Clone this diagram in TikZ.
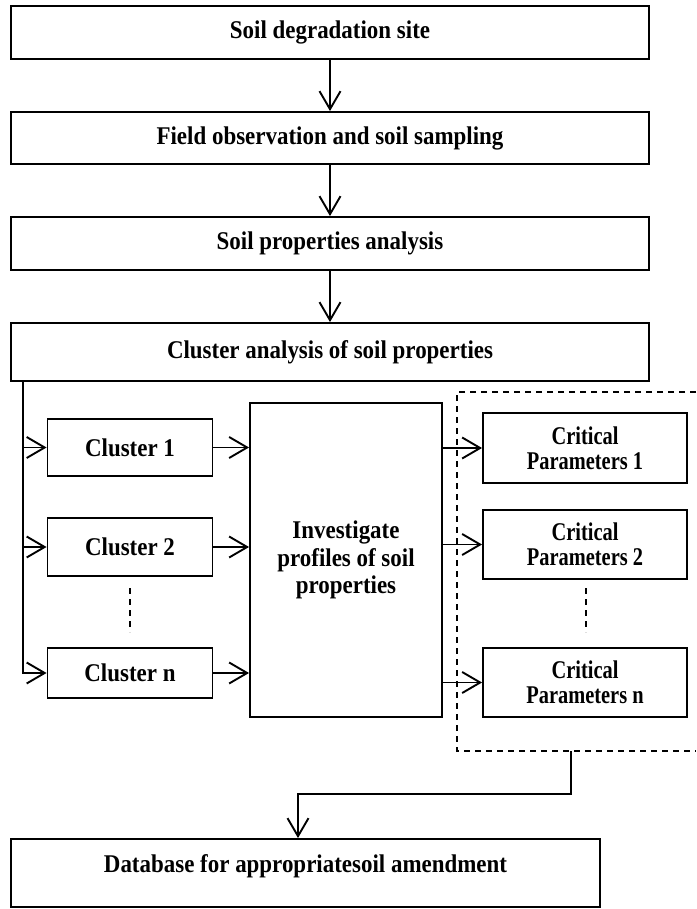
\documentclass[tikz,border=0pt]{standalone}
\usepackage{fontspec}
\setmainfont{Liberation Serif}[FakeStretch=0.9]
\newfontfamily\paramfont{Liberation Serif}[FakeStretch=0.8]
\usetikzlibrary{arrows.meta}

\begin{document}
\begin{tikzpicture}[x=1pt,y=-1pt,
  box/.style={draw,line width=1.9pt,inner sep=0pt,align=center,
    font=\fontsize{25.5}{27.5}\selectfont\bfseries},
  parbox/.style={box,font=\paramfont\fontsize{25.5}{25}\selectfont\bfseries},
  txt/.style={inner sep=0pt,font=\fontsize{25.5}{27.5}\selectfont\bfseries},
  arr/.style={line width=1.9pt,-{Straight Barb[length=18pt,width=21pt,line width=1.9pt]}},
  grp/.style={line width=1.5pt,dash pattern=on 6pt off 5pt},
]
\useasboundingbox (0,0) rectangle (696,909);

% main chain
\node[box,minimum width=638pt,minimum height=53pt] (b1) at (330,32.5) {Soil degradation site};
\node[box,minimum width=638pt,minimum height=52pt] (b2) at (330,138) {Field observation and soil sampling};
\node[box,minimum width=638pt,minimum height=53pt] (b3) at (330,243.5) {Soil properties analysis};
\node[box,minimum width=638pt,minimum height=58pt] (b4) at (330,352) {Cluster analysis of soil properties};

\draw[arr] (b1.south) -- (b2.north);
\draw[arr] (b2.south) -- (b3.north);
\draw[arr] (b3.south) -- (b4.north);

% clusters
\node[box,minimum width=165pt,minimum height=57pt] (c1) at (130,447.5) {Cluster 1};
\node[box,minimum width=165pt,minimum height=58pt] (c2) at (130,547) {Cluster 2};
\node[box,minimum width=165pt,minimum height=50pt] (cn) at (130,673) {Cluster n};
\draw[grp] (130,588) -- (130,632);

\coordinate (bus) at ([xshift=13pt]b4.south west);
\draw[arr] (bus) |- (c1.west);
\draw[arr] (bus) |- (c2.west);
\draw[arr] (bus) |- (cn.west);

% profiles
\node[box,minimum width=192pt,minimum height=314pt] (mid) at (346,560)
  {Investigate\\profiles of soil\\properties};
\draw[arr] (c1.east) -- (c1.east -| mid.west);
\draw[arr] (c2.east) -- (c2.east -| mid.west);
\draw[arr] (cn.east) -- (cn.east -| mid.west);

% critical parameters group
\draw[grp] (696,392) -- (457,392) -- (457,751) -- (696,751);
\coordinate (grpS) at (571,751);
\node[parbox,minimum width=204pt,minimum height=70pt] (p1) at (585,448) {Critical\\Parameters 1};
\node[parbox,minimum width=204pt,minimum height=69pt] (p2) at (585,544.5) {Critical\\Parameters 2};
\node[parbox,minimum width=204pt,minimum height=69pt] (pn) at (585,682.5) {Critical\\Parameters n};
\draw[grp] (586,588) -- (586,632);

\draw[arr] (mid.east |- p1.west) -- (p1.west);
\draw[arr] (mid.east |- p2.west) -- (p2.west);
\draw[arr] (mid.east |- pn.west) -- (pn.west);

% database
\node[box,minimum width=589pt,minimum height=68pt] (db) at (305.5,873) {};
\node[txt] (dbt) at (305.5,866) {Database for appropriatesoil amendment};
\draw[arr] (grpS) -- ++(0,43) -| ([xshift=-7.5pt]db.north);
\end{tikzpicture}
\end{document}
